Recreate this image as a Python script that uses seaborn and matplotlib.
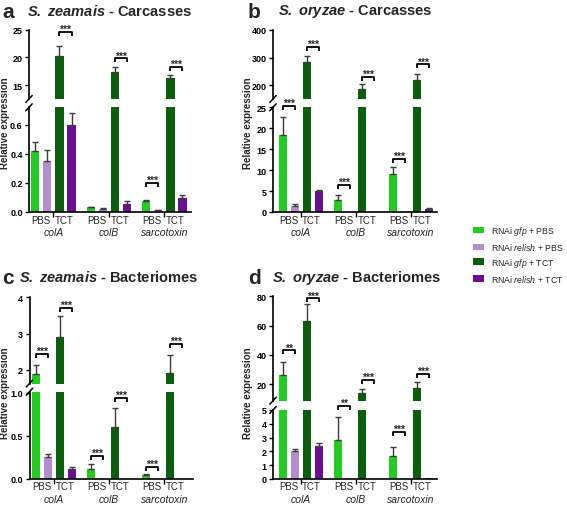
import numpy as np
import pandas as pd
import seaborn as sns
import matplotlib
matplotlib.use("Agg")
import matplotlib.pyplot as plt
from matplotlib.patches import Patch
from matplotlib.container import BarContainer

sns.set_theme(style="ticks")
plt.rcParams['font.family'] = ['Liberation Sans', 'DejaVu Sans']
plt.rcParams['mathtext.fontset'] = 'custom'
plt.rcParams['mathtext.rm'] = 'Liberation Sans'
plt.rcParams['mathtext.it'] = 'Liberation Sans:italic'
plt.rcParams['mathtext.bf'] = 'Liberation Sans:bold'
plt.rcParams['mathtext.bfit'] = 'Liberation Sans:italic:bold'

# ---------------- data ----------------
genes = ['colA', 'colB', 'sarcotoxin']
groups = ['RNAi gfp + PBS', 'RNAi relish + PBS', 'RNAi gfp + TCT', 'RNAi relish + TCT']
legend_labels = [r'RNAi $\mathit{gfp}$ + PBS', r'RNAi $\mathit{relish}$ + PBS',
                 r'RNAi $\mathit{gfp}$ + TCT', r'RNAi $\mathit{relish}$ + TCT']
colors = ['#22cc22', '#b48cd0', '#0b5e0b', '#6c0f8f']
pair_labels = ['PBS', 'TCT']

# rows follow `groups`, columns follow `genes`
a_means = [[0.42, 0.033, 0.075], [0.35, 0.020, 0.012], [20.2, 17.3, 16.3], [0.60, 0.058, 0.098]]
a_errs = [[0.06, 0.004, 0.011], [0.075, 0.008, 0.004], [1.9, 0.9, 0.5], [0.08, 0.016, 0.022]]
b_means = [[18.4, 2.9, 9.1], [1.4, 0.05, 0.1], [283, 187, 219], [4.9, 0.05, 0.7]]
b_errs = [[4.2, 1.1, 1.6], [0.4, 0.0, 0.0], [21, 17, 21], [0.3, 0.0, 0.2]]
c_means = [[1.88, 0.12, 0.05], [0.25, 0.004, 0.003], [2.91, 0.60, 1.9], [0.12, 0.004, 0.003]]
c_errs = [[0.24, 0.05, 0.012], [0.045, 0.0, 0.0], [0.58, 0.22, 0.51], [0.02, 0.0, 0.0]]
d_means = [[26, 2.85, 1.65], [2.0, 0.02, 0.03], [63, 14, 17.4], [2.4, 0.03, 0.06]]
d_errs = [[9.3, 1.65, 0.65], [0.2, 0.0, 0.0], [11.5, 2.3, 3.8], [0.23, 0.0, 0.0]]

a_ticks_hi, a_ticks_lo = [15, 20, 25], [0, 0.2, 0.4, 0.6]
a_ticklabels_lo = ['0.0', '0.2', '0.4', '0.6']
b_ticks_hi, b_ticks_lo = [200, 300, 400], [0, 5, 10, 15, 20, 25]
c_ticks_hi, c_ticks_lo = [2, 3, 4], [0, 0.5, 1.0]
c_ticklabels_lo = ['0.0', '0.5', '1.0']
d_ticks_hi, d_ticks_lo = [20, 40, 60, 80], [0, 1, 2, 3, 4, 5]

# significance: (gene index, pair 0=PBS/1=TCT, y value, segment, label)
a_sig = [(0, 1, 24.6, 'hi', '***'), (1, 1, 19.8, 'hi', '***'), (2, 1, 18.3, 'hi', '***'), (2, 0, 0.20, 'lo', '***')]
b_sig = [(0, 0, 25.4, 'lo', '***'), (0, 1, 338, 'hi', '***'), (1, 0, 6.5, 'lo', '***'),
         (1, 1, 230, 'hi', '***'), (2, 0, 12.6, 'lo', '***'), (2, 1, 275, 'hi', '***')]
c_sig = [(0, 0, 2.43, 'hi', '***'), (0, 1, 3.7, 'hi', '***'), (1, 0, 0.27, 'lo', '***'),
         (1, 1, 0.94, 'lo', '***'), (2, 0, 0.14, 'lo', '***'), (2, 1, 2.72, 'hi', '***')]
d_sig = [(0, 0, 43, 'hi', '**'), (0, 1, 78.5, 'hi', '***'), (1, 0, 5.3, 'lo', '**'),
         (1, 1, 23, 'hi', '***'), (2, 0, 3.4, 'lo', '***'), (2, 1, 27, 'hi', '***')]

# ---------------- figure ----------------
W, H = 567, 506
fig = plt.figure(figsize=(W / 100, H / 100), dpi=100)
fig.patch.set_facecolor('white')


def rect(x0, x1, yt, yb):
    return [x0 / W, 1 - yb / H, (x1 - x0) / W, (yb - yt) / H]


def long_df(means):
    rows = []
    for gi, g in enumerate(groups):
        for ki, k in enumerate(genes):
            rows.append({'gene': k, 'group': g, 'value': means[gi][ki]})
    return pd.DataFrame(rows)


def draw_panel(means, errs, x0, x1, xlim, hi_px, lo_px, ylim_hi, ylim_lo,
               ticks_hi, ticks_lo, ticklabels_lo, sig):
    df = long_df(means)
    ax_hi = fig.add_axes(rect(x0, x1, *hi_px))
    ax_lo = fig.add_axes(rect(x0, x1, *lo_px))
    hpx = {'hi': hi_px[1] - hi_px[0], 'lo': lo_px[1] - lo_px[0]}
    wpx = x1 - x0
    centers = {}
    for ax, yl in ((ax_hi, ylim_hi), (ax_lo, ylim_lo)):
        sns.barplot(data=df, x='gene', y='value', hue='group', order=genes, hue_order=groups,
                    palette=colors, saturation=1, width=0.87, gap=0.32, errorbar=None,
                    legend=False, ax=ax, linewidth=0)
        bar_conts = [c for c in ax.containers if isinstance(c, BarContainer)]
        for hi, cont in enumerate(bar_conts):
            for rectp in cont.patches:
                xc = rectp.get_x() + rectp.get_width() / 2
                gi = int(round(xc))
                centers[(hi, gi)] = xc
                e = errs[hi][gi]
                if e > 0:
                    ax.errorbar([xc], [rectp.get_height()], yerr=[[0], [e]], fmt='none',
                                ecolor='#3c3c3c', elinewidth=1.0, capsize=2.3, capthick=1.0,
                                zorder=1)
        ax.set_xlim(*xlim)
        ax.set_ylim(*yl)
        ax.set_xlabel('')
        ax.set_ylabel('')
        ax.set_facecolor('none')
        sns.despine(ax=ax)
        for sp in ax.spines.values():
            sp.set_linewidth(1.2)
            sp.set_color('black')
        ax.tick_params(axis='y', length=3, width=1, labelsize=6.5, pad=1.5, colors='black')
    # top segment
    ax_hi.spines['bottom'].set_visible(False)
    ax_hi.set_xticks([])
    ax_hi.set_yticks(ticks_hi)
    ax_hi.set_yticklabels([str(t) for t in ticks_hi])
    # bottom segment
    ax_lo.set_yticks(ticks_lo)
    ax_lo.set_yticklabels(ticklabels_lo if ticklabels_lo else [str(t) for t in ticks_lo])
    ax_lo.set_xticks(range(len(genes)))
    ax_lo.set_xticklabels([''] * len(genes))
    ax_lo.tick_params(axis='x', length=3.5, width=1, colors='black')
    for ax in (ax_hi, ax_lo):
        for lab in ax.get_yticklabels():
            lab.set_fontweight('bold')
    # category labels
    for gi, g in enumerate(genes):
        for pi, p in enumerate(pair_labels):
            ax_lo.text(gi + (-0.22 if pi == 0 else 0.2), -7.5 / hpx['lo'], p,
                       transform=ax_lo.get_xaxis_transform(), ha='center', va='center',
                       fontsize=7)
        ax_lo.text(gi, -20.5 / hpx['lo'], g, transform=ax_lo.get_xaxis_transform(),
                   ha='center', va='center', fontsize=7.5, style='italic')
    # break marks
    dx = 3.2 / wpx
    ax_hi.plot([-dx, dx], [-3.5 / hpx['hi'], 3.5 / hpx['hi']], transform=ax_hi.transAxes,
               color='black', lw=1.1, clip_on=False)
    ax_lo.plot([-dx, dx], [1 - 3.5 / hpx['lo'], 1 + 3.5 / hpx['lo']], transform=ax_lo.transAxes,
               color='black', lw=1.1, clip_on=False)
    # significance brackets
    for gi, pi, yv, seg, lab in sig:
        ax = ax_hi if seg == 'hi' else ax_lo
        yl = ylim_hi if seg == 'hi' else ylim_lo
        xa = centers[(2 * pi, gi)]
        xb = centers[(2 * pi + 1, gi)]
        dy = 4.0 * (yl[1] - yl[0]) / hpx[seg]
        ax.plot([xa, xa, xb, xb], [yv - dy, yv, yv, yv - dy], color='black', lw=1.3,
                clip_on=False, solid_capstyle='butt', zorder=5)
        ax.text((xa + xb) / 2, yv - 0.5 * dy, lab, ha='center', va='bottom', fontsize=7.5,
                fontweight='bold', clip_on=False)
    return ax_hi, ax_lo


draw_panel(a_means, a_errs, 29, 191, (-0.44, 2.48), (30.7, 100), (108.3, 213),
           (12.47, 25), (0, 0.722), a_ticks_hi, a_ticks_lo, a_ticklabels_lo, a_sig)
draw_panel(b_means, b_errs, 273, 437, (-0.5, 2.47), (30.7, 100), (108.3, 213),
           (151, 400), (0, 25), b_ticks_hi, b_ticks_lo, None, b_sig)
draw_panel(c_means, c_errs, 29.5, 193, (-0.44, 2.52), (298.3, 384.5), (392.7, 480),
           (1.62, 4), (0, 1.01), c_ticks_hi, c_ticks_lo, c_ticklabels_lo, c_sig)
draw_panel(d_means, d_errs, 273, 437, (-0.5, 2.47), (297.3, 401.7), (411, 480),
           (8.6, 80), (0, 5), d_ticks_hi, d_ticks_lo, None, d_sig)

# panel letters and titles
letters = [('a', 2, 12), ('b', 248, 12), ('c', 2, 278), ('d', 248, 278)]
for t, x, y in letters:
    fig.text(x / W, 1 - y / H, t, fontsize=15, fontweight='bold', va='center', ha='left')
titles = [(r'$\mathbfit{S.\ zeamais}$ - Carcasses', 109, 12),
          (r'$\mathbfit{S.\ oryzae}$ - Carcasses', 355, 12),
          (r'$\mathbfit{S.\ zeamais}$ - Bacteriomes', 109, 278),
          (r'$\mathbfit{S.\ oryzae}$ - Bacteriomes', 356, 278)]
for t, x, y in titles:
    fig.text(x / W, 1 - y / H, t, fontsize=10.5, fontweight='bold', va='center', ha='center')

for x, y in [(5, 123), (248, 123), (5, 393), (248, 393)]:
    fig.text(x / W, 1 - y / H, 'Relative expression', rotation=90, fontsize=7,
             fontweight='bold', va='center', ha='center')

handles = [Patch(facecolor=c, edgecolor='none') for c in colors]
fig.legend(handles, legend_labels, loc='upper left', bbox_to_anchor=(473 / W, 1 - 225 / H),
           frameon=False, fontsize=6.3, handlelength=1.3, handleheight=0.8,
           labelspacing=0.45, handletextpad=0.75, borderaxespad=0, borderpad=0)

fig.savefig('out.png', dpi=100, facecolor='white')
